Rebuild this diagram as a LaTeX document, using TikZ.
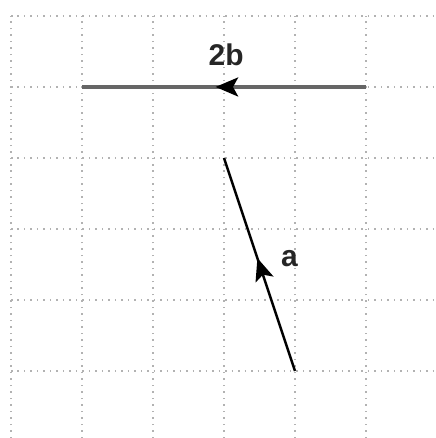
\documentclass[tikz,border=0pt]{standalone}
\usepackage{fontspec}
\setmainfont{Liberation Sans}
\usetikzlibrary{arrows.meta,decorations.markings}
\tikzset{
    gridline/.style={gray!60, dotted, line width=0.6pt},
    midarrow/.style={postaction={decorate}, decoration={markings,
        mark=at position 0.53 with {\arrow[black]{Stealth[length=9pt,width=7.5pt,inset=2pt]}}}},
    veclabel/.style={font=\fontsize{12}{14}\selectfont\bfseries, text=black!85}
}

\begin{document}
\begin{tikzpicture}[line width=1pt]

        \useasboundingbox (-0.155,-0.944) rectangle (5.972,5.225);

        % Grid
        \foreach \x in {0,...,5} {
            \draw[gridline] (\x,-0.944) -- (\x,5);
        }
        \foreach \y in {0,...,5} {
            \draw[gridline] (0,\y) -- (5.972,\y);
        }

        % --- Vector 2b ---
        \coordinate (bstart) at (5,4);
        \coordinate (bend) at (1,4);
        \draw[midarrow, black!60, line width=1.7pt] (bstart) -- (bend);
        \node[veclabel] (blabel) at (3.03,4.46) {2b};

        % --- Vector a ---
        \coordinate (astart) at (4,0);
        \coordinate (aend) at (3,3);
        \draw[midarrow, black, line width=1pt] (astart) -- (aend);
        \node[veclabel] (alabel) at (3.92,1.585) {a};

    \end{tikzpicture}
\end{document}
